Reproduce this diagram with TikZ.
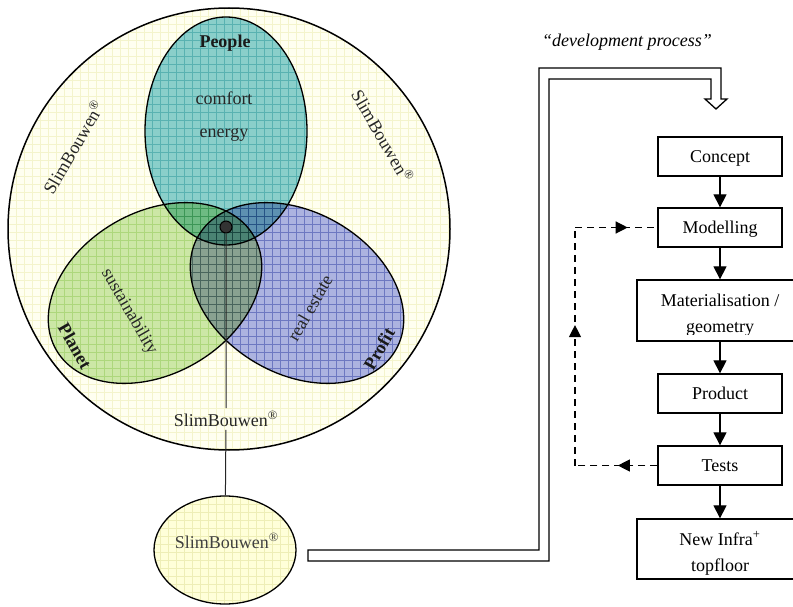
\documentclass[tikz,border=0pt]{standalone}
\usepackage{fontspec}
\setmainfont{Liberation Serif}
\usetikzlibrary{arrows.meta,decorations.markings,shapes.geometric}

\definecolor{shellfill}{HTML}{FFFFF0}
\definecolor{shellgrid}{HTML}{F4F4CC}
\definecolor{seedfill}{HTML}{FFFFD9}
\definecolor{seedgrid}{HTML}{EEEEB6}
\definecolor{peoplefill}{HTML}{8ACFCA}
\definecolor{peoplegrid}{HTML}{A6DCE0}
\definecolor{planetfill}{HTML}{CCE7A6}
\definecolor{planetgrid}{HTML}{D9EEC0}
\definecolor{profitfill}{HTML}{ACB3E0}
\definecolor{profitgrid}{HTML}{A2ACDC}

\newcommand\diagsize{\fontsize{18}{26}\selectfont}

\tikzset{
  outline/.style={draw=black, line width=1.3pt, inner sep=0pt},
  gridlines/.style={step=8pt, line width=0.8pt},
  lobe/.style={ellipse, outline, minimum width=162, minimum height=228},
  body/.style={font=\diagsize, text=black!85},
  heading/.style={font=\diagsize\bfseries, text=black!90},
  flowbox/.style={draw, line width=1.3pt, fill=white, minimum width=124,
    minimum height=39, text height=13pt, text depth=1pt, inner sep=0pt, font=\diagsize},
  widebox/.style={flowbox, minimum width=166},
  flowarrow/.style={line width=1.2pt, -{Triangle[length=13pt,width=13pt]}},
  feedback/.style={line width=1.2pt, dash pattern=on 7pt off 5pt},
  midtip/.style={postaction={decorate}, decoration={markings,
    mark=at position #1 with {\arrow{Triangle[length=12pt,width=12pt]}}}},
  peoplepath/.style={},
  planetturn/.style={rotate around={-60:(155,293)}},
  profitturn/.style={rotate around={60:(297,293)}},
}

\begin{document}
\begin{tikzpicture}[x=1pt,y=-1pt,font=\diagsize]
\useasboundingbox (0,0) rectangle (793,607);

% outer SlimBouwen disc with its fine grid
\fill[shellfill] (229,229) circle[radius=221pt];
\begin{scope}
  \clip (229,229) circle[radius=221pt];
  \draw[gridlines, shellgrid] (0,607) grid (793,0);
\end{scope}

% white ground under the lobes so their tints mix only with each other
\fill[white] (226,131) ellipse[x radius=81pt, y radius=114pt];
\fill[white, planetturn] (155,293) ellipse[x radius=81pt, y radius=114pt];
\fill[white, profitturn] (297,293) ellipse[x radius=81pt, y radius=114pt];

% the three overlapping lobes
\begin{scope}[blend mode=multiply]
  \fill[peoplefill] (226,131) ellipse[x radius=81pt, y radius=114pt];
  \begin{scope}
    \clip (226,131) ellipse[x radius=81pt, y radius=114pt];
    \draw[gridlines, peoplegrid] (0,607) grid (793,0);
  \end{scope}
  \fill[planetfill, planetturn] (155,293) ellipse[x radius=81pt, y radius=114pt];
  \begin{scope}
    \clip[planetturn] (155,293) ellipse[x radius=81pt, y radius=114pt];
    \draw[gridlines, planetgrid] (0,607) grid (793,0);
  \end{scope}
  \fill[profitfill, profitturn] (297,293) ellipse[x radius=81pt, y radius=114pt];
  \begin{scope}
    \clip[profitturn] (297,293) ellipse[x radius=81pt, y radius=114pt];
    \draw[gridlines, profitgrid] (0,607) grid (793,0);
  \end{scope}
\end{scope}

\node[lobe] (people) at (226,131) {};
\node[lobe, rotate=-60] (planet) at (155,293) {};
\node[lobe, rotate=60] (profit) at (297,293) {};
\node[circle, outline, line width=1.5pt, minimum size=442] (shell) at (229,229) {};

% lobe texts
\node[heading, anchor=base] (peoplename) at (225,47.5) {People};
\node[body, anchor=base] (comfort) at (224,105) {comfort};
\node[body, anchor=base] (energy) at (224,138) {energy};
\node[body, rotate=-60] (sustain) at (129,312) {sustainability};
\node[heading, rotate=-60] (planetname) at (75,346) {Planet};
\node[body, rotate=60] (estate) at (310,308) {real estate};
\node[heading, rotate=60] (profitname) at (379,349) {Profit};
\node[body, rotate=60] (ringleft) at (73,147) {SlimBouwen\textsuperscript{®}};
\node[body, rotate=-60] (ringright) at (383,136) {SlimBouwen\textsuperscript{®}};

% hub, stem and the small SlimBouwen ellipse
\node[circle, draw, line width=1pt, fill=black!80, minimum size=12, inner sep=0pt] (hub) at (226,227) {};
\node[body] (core) at (226,419) {SlimBouwen\textsuperscript{®}};
\fill[seedfill] (225,550) ellipse[x radius=71pt, y radius=54pt];
\begin{scope}
  \clip (225,550) ellipse[x radius=71pt, y radius=54pt];
  \draw[gridlines, seedgrid] (0,607) grid (793,0);
\end{scope}
\node[ellipse, outline, minimum width=142, minimum height=108] (seed) at (225,550) {};
\node[body, text=black!75] (seedname) at (227,541) {SlimBouwen\textsuperscript{®}};
\draw[line width=1pt, black!85] (hub) -- (core) -- (seed);

% hollow arrow leading into the development process
\coordinate (flowin) at (308,555.5);
\coordinate (flowtip) at (716,109);
\draw[line width=1.3pt, fill=white, line join=miter]
  (308,561) -- (549,561) -- (549,79) -- (711,79) -- (711,99) -- (705,99)
  -- (flowtip) -- (727,99) -- (721,99) -- (721,68) -- (539,68) -- (539,550)
  -- (308,550) -- cycle;
\node[font=\diagsize\itshape, anchor=base] (process) at (627,47) {“development process”};

% process steps
\node[flowbox] (concept) at (720,156.5) {Concept};
\node[flowbox] (model) at (720,227.5) {Modelling};
\node[widebox, minimum height=61] (mat) at (720,310.5) {};
\begin{scope}
  \clip ([yshift=7pt]mat.south west) rectangle (mat.north east);
  \node[anchor=base] (matone) at (720,306) {Materialisation /};
  \node[anchor=base] (mattwo) at (720,332) {geometry};
\end{scope}
\node[flowbox] (product) at (720,393.5) {Product};
\node[flowbox] (tests) at (720,465.5) {Tests};
\node[widebox, minimum height=60] (infra) at (720,549) {};
\begin{scope}
  \clip ([yshift=5pt]infra.south west) rectangle (infra.north east);
  \node[anchor=base] (infraone) at (720,545) {New Infra\textsuperscript{+}};
  \node[anchor=base] (infratwo) at (720,571) {topfloor};
\end{scope}

\draw[flowarrow] (concept) -- (model);
\draw[flowarrow] (model) -- (mat);
\draw[flowarrow] (mat) -- (product);
\draw[flowarrow] (product) -- (tests);
\draw[flowarrow] (tests) -- (infra);

% feedback loop from Tests back to Modelling
\coordinate (fbbottom) at (575,465.5);
\coordinate (fbtop) at (575,227.5);
\draw[feedback, midtip=0.48] (tests.west) -- (fbbottom);
\draw[feedback, midtip=0.59] (fbbottom) -- (fbtop);
\draw[feedback, midtip=0.64] (fbtop) -- (model.west);
\end{tikzpicture}
\end{document}
